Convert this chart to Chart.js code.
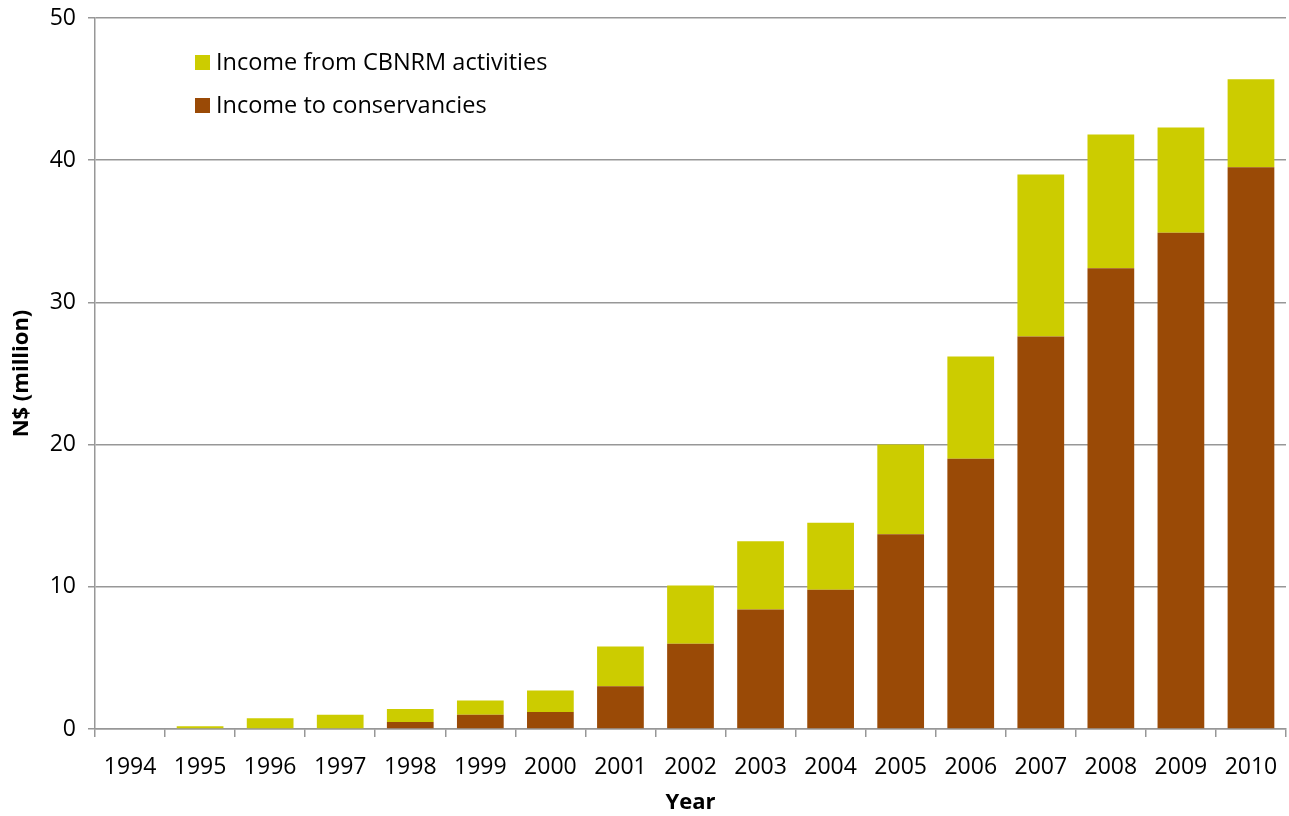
<!DOCTYPE html>
<html>
<head>
<meta charset="utf-8">
<script src="https://cdn.jsdelivr.net/npm/chart.js@4.4.1/dist/chart.umd.min.js"></script>
<style>
  html, body { margin: 0; padding: 0; background: #fff; }
  #wrap { width: 1289px; height: 816px; }
</style>
</head>
<body>
<div id="wrap"><canvas id="myChart" width="1289" height="816"></canvas></div>
<script>
// data (N$ million)
const years = ['1994', '1995', '1996', '1997', '1998', '1999', '2000', '2001', '2002',
  '2003', '2004', '2005', '2006', '2007', '2008', '2009', '2010'];
const incomeToConservancies = [0, 0, 0, 0, 0.5, 1.0, 1.2, 3.0, 6.0, 8.4, 9.8, 13.7, 19.0, 27.6, 32.4, 34.9, 39.5];
const incomeFromCBNRM = [0, 0.2, 0.75, 1.0, 0.9, 1.0, 1.5, 2.8, 4.1, 4.8, 4.7, 6.3, 7.2, 11.4, 9.4, 7.4, 6.2];
const yTicks = [0, 10, 20, 30, 40, 50];

const FONT = "'Open Sans', 'Noto Sans', sans-serif";
const GRID = '#979797';

// legend drawn inside the plot, top left
const insideLegend = {
  id: 'insideLegend',
  afterDraw(chart) {
    const ctx = chart.ctx;
    const items = chart.data.datasets.slice().reverse();
    ctx.save();
    ctx.font = '23.5px ' + FONT;
    ctx.textBaseline = 'middle';
    items.forEach((ds, i) => {
      const y = 62 + i * 43;
      ctx.fillStyle = ds.backgroundColor;
      ctx.fillRect(195, y - 7, 15, 15);
      ctx.fillStyle = '#000';
      ctx.fillText(ds.label, 216, y + 1);
    });
    ctx.restore();
  }
};

const context = document.getElementById('myChart').getContext('2d');
const myChart = new Chart(context, {
  type: 'bar',
  data: {
    labels: years,
    datasets: [
      {
        label: 'Income to conservancies',
        data: incomeToConservancies,
        backgroundColor: '#9A4A06',
        barPercentage: 0.667,
        categoryPercentage: 1
      },
      {
        label: 'Income from CBNRM activities',
        data: incomeFromCBNRM,
        backgroundColor: '#CCCC00',
        barPercentage: 0.667,
        categoryPercentage: 1
      }
    ]
  },
  options: {
    responsive: false,
    animation: false,
    layout: { padding: { top: 18, right: 3, left: 0, bottom: 0 } },
    plugins: {
      legend: { display: false },
      tooltip: { enabled: false }
    },
    scales: {
      x: {
        stacked: true,
        grid: {
          offset: true,
          drawOnChartArea: false,
          color: GRID,
          lineWidth: 1.5,
          tickLength: 8
        },
        border: { color: GRID, width: 1.5 },
        ticks: {
          color: '#000',
          font: { family: FONT, size: 23 },
          padding: 17,
          maxRotation: 0,
          autoSkip: false
        },
        title: {
          display: true,
          text: 'Year',
          color: '#000',
          font: { family: FONT, size: 22, weight: 'bold' },
          padding: { top: 0, bottom: 0 }
        },
        afterFit(scale) {
          scale.height = 87;
          scale.paddingLeft = 0;
          scale.paddingRight = 0;
        }
      },
      y: {
        stacked: true,
        min: 0,
        max: 50,
        afterBuildTicks(scale) { scale.ticks = yTicks.map(v => ({ value: v })); },
        grid: {
          color: GRID,
          lineWidth: 1.5,
          tickLength: 7
        },
        border: { color: GRID, width: 1.5 },
        ticks: {
          color: '#000',
          font: { family: FONT, size: 23 },
          padding: 12
        },
        title: {
          display: true,
          text: 'N$ (million)',
          color: '#000',
          font: { family: FONT, size: 22, weight: 'bold' },
          padding: { top: 9, bottom: 0 }
        },
        afterFit(scale) {
          scale.width = 95;
          scale.paddingTop = 0;
          scale.paddingBottom = 0;
        }
      }
    }
  },
  plugins: [insideLegend]
});
</script>
</body>
</html>
